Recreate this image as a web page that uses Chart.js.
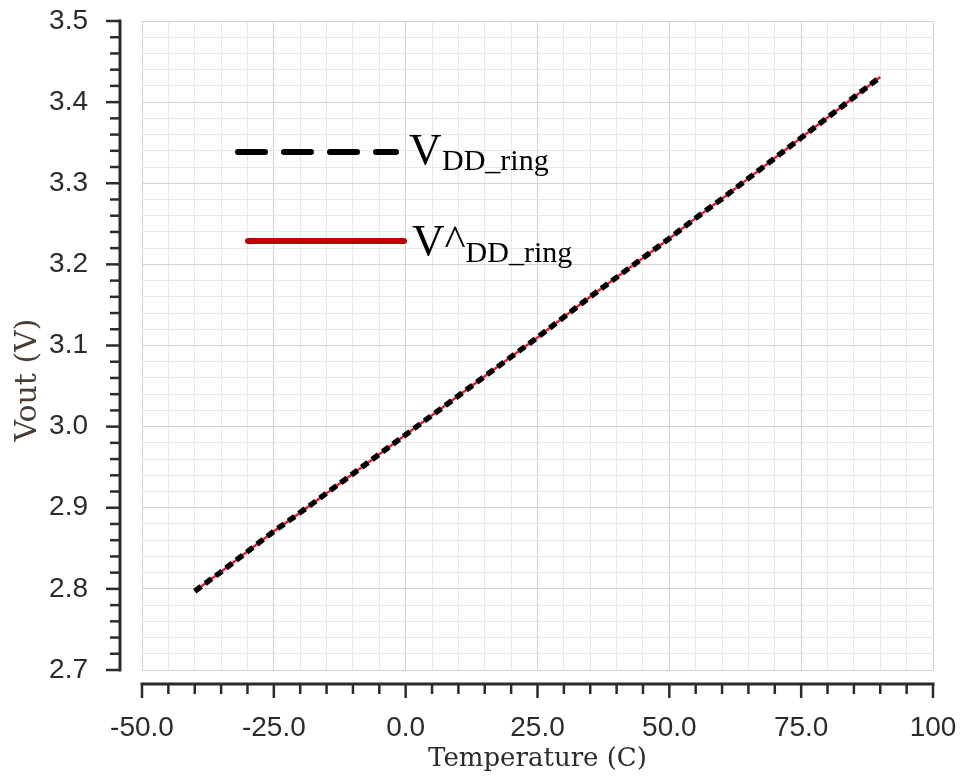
<!DOCTYPE html>
<html>
<head>
<meta charset="utf-8">
<script src="https://cdn.jsdelivr.net/npm/chart.js@4/dist/chart.umd.min.js"></script>
<style>
  html, body { margin: 0; padding: 0; background: #ffffff; }
  #wrap { width: 961px; height: 783px; position: relative; }
</style>
</head>
<body>
<div id="wrap"><canvas id="c" width="961" height="783"></canvas></div>
<script>
// Temperature sweep (°C)
const temperatures = [-40, -35, -30, -25, -20, -15, -10, -5, 0, 5, 10, 15, 20, 25, 30, 35, 40, 45, 50, 55, 60, 65, 70, 75, 80, 85, 90];
// Simulated ring supply voltage (V)
const vddRing = [2.797, 2.821, 2.846, 2.871, 2.894, 2.918, 2.942, 2.966, 2.990, 3.014, 3.038, 3.062, 3.086, 3.110, 3.135, 3.160, 3.184, 3.208, 3.232, 3.257, 3.281, 3.306, 3.331, 3.356, 3.381, 3.406, 3.431];
// Estimated ring supply voltage (V)
const vddRingHat = [2.797, 2.821, 2.846, 2.871, 2.894, 2.918, 2.942, 2.966, 2.990, 3.014, 3.038, 3.062, 3.086, 3.110, 3.135, 3.160, 3.184, 3.208, 3.232, 3.257, 3.281, 3.306, 3.331, 3.356, 3.381, 3.406, 3.431];
// Labelled x ticks (every 25 °C) and y ticks (every 0.1 V)
const xTickLabels = { '-50': '-50.0', '-25': '-25.0', '0': '0.0', '25': '25.0', '50': '50.0', '75': '75.0', '100': '100' };
const yTickLabels = ['2.7', '2.8', '2.9', '3.0', '3.1', '3.2', '3.3', '3.4', '3.5'];

const isMajorX = v => Math.abs(v % 25) < 1e-6;
const isMajorY = v => Math.abs(v * 10 - Math.round(v * 10)) < 1e-6;

// Fixed axis boxes, without extra room for overhanging end labels
const fixBox = size => s => {
  if (s.isHorizontal()) s.height = size; else s.width = size;
  s.paddingTop = 0; s.paddingBottom = 0; s.paddingLeft = 0; s.paddingRight = 0;
};

// Dotted grid style shared by both axes
const dottedGrid = isMajor => ({
  drawTicks: false,
  color: c => isMajor(c.tick.value) ? '#d2d2d2' : '#e8e8e8',
  lineWidth: 1,
  dash: [2, 3],
  tickBorderDash: [2, 3]
});

// Offset axis lines with outward tick marks, y title and legend
const decorations = {
  id: 'decorations',
  afterDraw(chart) {
    const ctx = chart.ctx;
    const xs = chart.scales.x, ys = chart.scales.y;
    const area = chart.chartArea;
    ctx.save();
    ctx.strokeStyle = '#2b2b2b';
    ctx.lineCap = 'butt';
    ctx.setLineDash([]);

    // y axis
    const yAxisX = area.left - 22;
    ctx.lineWidth = 3;
    ctx.beginPath();
    ctx.moveTo(yAxisX, ys.getPixelForValue(3.5) - 1.5);
    ctx.lineTo(yAxisX, ys.getPixelForValue(2.7) + 1.5);
    ctx.stroke();
    ctx.lineWidth = 2.5;
    ys.ticks.forEach(t => {
      const py = ys.getPixelForValue(t.value);
      const len = isMajorY(t.value) ? 14 : 10;
      ctx.beginPath();
      ctx.moveTo(yAxisX, py);
      ctx.lineTo(yAxisX - len, py);
      ctx.stroke();
    });

    // x axis
    const xAxisY = area.bottom + 14;
    ctx.lineWidth = 3;
    ctx.beginPath();
    ctx.moveTo(xs.getPixelForValue(-50) - 1.5, xAxisY);
    ctx.lineTo(xs.getPixelForValue(100) + 1.5, xAxisY);
    ctx.stroke();
    ctx.lineWidth = 2.5;
    xs.ticks.forEach(t => {
      const px = xs.getPixelForValue(t.value);
      const len = isMajorX(t.value) ? 14 : 10;
      ctx.beginPath();
      ctx.moveTo(px, xAxisY);
      ctx.lineTo(px, xAxisY + len);
      ctx.stroke();
    });

    // y axis title
    ctx.save();
    ctx.translate(28, 380);
    ctx.rotate(-Math.PI / 2);
    ctx.fillStyle = '#4a3c30';
    ctx.font = '30px "DejaVu Serif"';
    ctx.textAlign = 'center';
    ctx.textBaseline = 'middle';
    ctx.fillText('Vout (V)', 0, 0);
    ctx.restore();

    // legend
    ctx.lineCap = 'round';
    ctx.strokeStyle = '#000000';
    ctx.lineWidth = 6;
    ctx.setLineDash([27, 19]);
    ctx.beginPath();
    ctx.moveTo(238, 152);
    ctx.lineTo(396, 152);
    ctx.stroke();
    ctx.setLineDash([]);

    ctx.strokeStyle = '#c00000';
    ctx.lineWidth = 6;
    ctx.beginPath();
    ctx.moveTo(248, 241);
    ctx.lineTo(404, 241);
    ctx.stroke();

    ctx.fillStyle = '#000000';
    ctx.textAlign = 'left';
    ctx.textBaseline = 'alphabetic';
    ctx.font = '45px "Liberation Serif"';
    ctx.fillText('V', 409, 164);
    ctx.font = '30px "Liberation Serif"';
    ctx.fillText('DD_ring', 442, 170);

    ctx.font = '45px "Liberation Serif"';
    ctx.fillText('V^', 412, 255);
    const vw = ctx.measureText('V^').width;
    ctx.font = '30px "Liberation Serif"';
    ctx.fillText('DD_ring', 412 + vw, 262);
    ctx.restore();
  }
};

new Chart(document.getElementById('c'), {
  type: 'line',
  data: {
    labels: temperatures,
    datasets: [
      {
        label: 'VDD_ring',
        data: temperatures.map((t, i) => ({ x: t, y: vddRing[i] })),
        borderColor: '#000000',
        borderWidth: 5.5,
        borderDash: [8, 5],
        pointRadius: 0,
        tension: 0,
        fill: false
      },
      {
        label: 'V^DD_ring',
        data: temperatures.map((t, i) => ({ x: t, y: vddRingHat[i] })),
        borderColor: '#e0203a',
        borderWidth: 2.5,
        pointRadius: 0,
        tension: 0,
        fill: false
      }
    ]
  },
  options: {
    responsive: false,
    animation: false,
    devicePixelRatio: 1,
    layout: { padding: { top: 21, right: 28, left: 0, bottom: 0 } },
    plugins: {
      legend: { display: false },
      tooltip: { enabled: false }
    },
    scales: {
      x: {
        type: 'linear',
        min: -50,
        max: 100,
        afterFit: fixBox(113),
        border: { display: false },
        grid: dottedGrid(isMajorX),
        ticks: {
          stepSize: 5,
          autoSkip: false,
          maxRotation: 0,
          padding: 41,
          color: '#2b2b2b',
          font: { family: '"Liberation Sans"', size: 28 },
          callback: v => xTickLabels[String(Math.round(v))] !== undefined && isMajorX(v) ? xTickLabels[String(Math.round(v))] : ''
        },
        title: {
          display: true,
          text: 'Temperature (C)',
          color: '#2b2b2b',
          font: { family: '"DejaVu Serif"', size: 26 },
          padding: { top: 0, bottom: 8 }
        }
      },
      y: {
        type: 'linear',
        min: 2.7,
        max: 3.5,
        afterFit: fixBox(142),
        border: { display: false },
        grid: dottedGrid(isMajorY),
        ticks: {
          stepSize: 0.02,
          autoSkip: false,
          padding: 54,
          color: '#2b2b2b',
          font: { family: '"Liberation Sans"', size: 28 },
          callback: v => isMajorY(v) ? yTickLabels[Math.round((v - 2.7) * 10)] : ''
        }
      }
    }
  },
  plugins: [decorations]
});
</script>
</body>
</html>
